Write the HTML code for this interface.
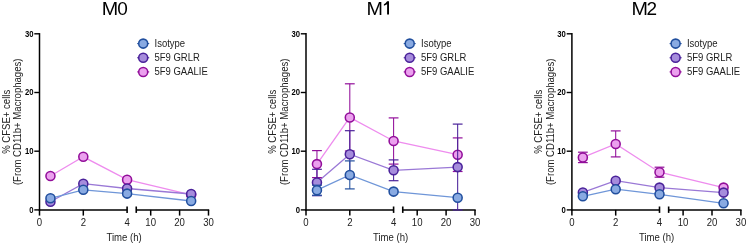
<!DOCTYPE html>
<html><head><meta charset="utf-8"><style>
html,body{margin:0;padding:0;background:#fff;}
svg{display:block;font-family:"Liberation Sans", sans-serif;will-change:transform;}
</style></head><body>
<svg width="748" height="245" viewBox="0 0 748 245">
<rect width="748" height="245" fill="#fff"/>
<text x="101.8" y="14.9" font-size="19" fill="#000" transform="translate(101.80,0) scale(1.04,1) translate(-101.80,0)">M</text>
<text x="117.2" y="14.9" font-size="19" fill="#000" transform="translate(117.20,0) scale(1.0,1) translate(-117.20,0)">0</text>
<line x1="39.50" y1="33.1" x2="39.50" y2="210.6" stroke="#000" stroke-width="1.5"/>
<line x1="34.30" y1="209.90" x2="39.50" y2="209.90" stroke="#000" stroke-width="1.4"/>
<text transform="translate(33.50,212.80) scale(1.0,1.12)" font-size="7.7" font-weight="bold" text-anchor="end" fill="#000">0</text>
<line x1="34.30" y1="151.20" x2="39.50" y2="151.20" stroke="#000" stroke-width="1.4"/>
<text transform="translate(33.50,154.10) scale(1.0,1.12)" font-size="7.7" font-weight="bold" text-anchor="end" fill="#000">10</text>
<line x1="34.30" y1="92.50" x2="39.50" y2="92.50" stroke="#000" stroke-width="1.4"/>
<text transform="translate(33.50,95.40) scale(1.0,1.12)" font-size="7.7" font-weight="bold" text-anchor="end" fill="#000">20</text>
<line x1="34.30" y1="33.80" x2="39.50" y2="33.80" stroke="#000" stroke-width="1.4"/>
<text transform="translate(33.50,36.70) scale(1.0,1.12)" font-size="7.7" font-weight="bold" text-anchor="end" fill="#000">30</text>
<line x1="38.80" y1="209.90" x2="127.10" y2="209.90" stroke="#000" stroke-width="1.55"/>
<line x1="136.25" y1="209.90" x2="209.20" y2="209.90" stroke="#000" stroke-width="1.55"/>
<line x1="127.10" y1="206.5" x2="127.10" y2="212.9" stroke="#000" stroke-width="1.6"/>
<line x1="136.25" y1="206.5" x2="136.25" y2="212.9" stroke="#000" stroke-width="1.6"/>
<line x1="39.50" y1="209.90" x2="39.50" y2="215.6" stroke="#000" stroke-width="1.5"/>
<line x1="83.30" y1="209.90" x2="83.30" y2="215.6" stroke="#000" stroke-width="1.5"/>
<line x1="150.70" y1="209.90" x2="150.70" y2="215.6" stroke="#000" stroke-width="1.5"/>
<line x1="179.60" y1="209.90" x2="179.60" y2="215.6" stroke="#000" stroke-width="1.5"/>
<line x1="208.50" y1="209.90" x2="208.50" y2="215.6" stroke="#000" stroke-width="1.5"/>
<text transform="translate(39.50,225.90) scale(1.0,1.08)" font-size="9.6" text-anchor="middle" fill="#222">0</text>
<text transform="translate(83.30,225.90) scale(1.0,1.08)" font-size="9.6" text-anchor="middle" fill="#222">2</text>
<text transform="translate(127.10,225.90) scale(1.0,1.08)" font-size="9.6" text-anchor="middle" fill="#222">4</text>
<text transform="translate(150.70,225.90) scale(1.0,1.08)" font-size="9.6" text-anchor="middle" fill="#222">10</text>
<text transform="translate(179.60,225.90) scale(1.0,1.08)" font-size="9.6" text-anchor="middle" fill="#222">20</text>
<text transform="translate(208.50,225.90) scale(1.0,1.08)" font-size="9.6" text-anchor="middle" fill="#222">30</text>
<text transform="translate(106.50,240.5) scale(0.93,1)" font-size="10.3" fill="#222">Time (h)</text>
<text transform="translate(9.50,121.8) rotate(-90) scale(0.92,1)" font-size="10.4" text-anchor="middle" fill="#222">% CFSE+ cells</text>
<text transform="translate(21.30,121.8) rotate(-90) scale(0.92,1)" font-size="10.4" text-anchor="middle" fill="#222">(From CD11b+ Macrophages)</text>
<polyline points="50.45,176.00 83.30,156.80 127.10,179.70 191.16,194.80" fill="none" stroke="#ee8cee" stroke-width="1.3"/>
<polyline points="50.45,201.70 83.30,183.70 127.10,188.50 191.16,194.00" fill="none" stroke="#9a78d6" stroke-width="1.3"/>
<polyline points="50.45,198.30 83.30,189.80 127.10,193.60 191.16,201.00" fill="none" stroke="#6f96d8" stroke-width="1.3"/>
<circle cx="50.45" cy="176.00" r="4.5" fill="#eba0ee" stroke="#920e9a" stroke-width="1.55"/>
<circle cx="83.30" cy="156.80" r="4.5" fill="#eba0ee" stroke="#920e9a" stroke-width="1.55"/>
<circle cx="127.10" cy="179.70" r="4.5" fill="#eba0ee" stroke="#920e9a" stroke-width="1.55"/>
<circle cx="191.16" cy="194.80" r="4.5" fill="#eba0ee" stroke="#920e9a" stroke-width="1.55"/>
<circle cx="50.45" cy="201.70" r="4.5" fill="#a68cdc" stroke="#4a229a" stroke-width="1.55"/>
<circle cx="83.30" cy="183.70" r="4.5" fill="#a68cdc" stroke="#4a229a" stroke-width="1.55"/>
<circle cx="127.10" cy="188.50" r="4.5" fill="#a68cdc" stroke="#4a229a" stroke-width="1.55"/>
<circle cx="191.16" cy="194.00" r="4.5" fill="#a68cdc" stroke="#4a229a" stroke-width="1.55"/>
<circle cx="50.45" cy="198.30" r="4.5" fill="#89aae2" stroke="#214f9e" stroke-width="1.55"/>
<circle cx="83.30" cy="189.80" r="4.5" fill="#89aae2" stroke="#214f9e" stroke-width="1.55"/>
<circle cx="127.10" cy="193.60" r="4.5" fill="#89aae2" stroke="#214f9e" stroke-width="1.55"/>
<circle cx="191.16" cy="201.00" r="4.5" fill="#89aae2" stroke="#214f9e" stroke-width="1.55"/>
<line x1="137.20" y1="43.60" x2="149.20" y2="43.60" stroke="#214f9e" stroke-width="1.1"/>
<circle cx="143.20" cy="43.60" r="4.5" fill="#89aae2" stroke="#214f9e" stroke-width="1.55"/>
<text transform="translate(154.50,46.80) scale(1.0,1.07)" font-size="9.5" fill="#222">Isotype</text>
<line x1="137.20" y1="57.75" x2="149.20" y2="57.75" stroke="#4a229a" stroke-width="1.1"/>
<circle cx="143.20" cy="57.75" r="4.5" fill="#a68cdc" stroke="#4a229a" stroke-width="1.55"/>
<text transform="translate(154.50,60.95) scale(1.0,1.07)" font-size="9.5" fill="#222">5F9 GRLR</text>
<line x1="137.20" y1="71.90" x2="149.20" y2="71.90" stroke="#920e9a" stroke-width="1.1"/>
<circle cx="143.20" cy="71.90" r="4.5" fill="#eba0ee" stroke="#920e9a" stroke-width="1.55"/>
<text transform="translate(154.50,75.10) scale(1.0,1.07)" font-size="9.5" fill="#222">5F9 GAALIE</text>
<text x="366.4" y="14.9" font-size="19" fill="#000" transform="translate(366.40,0) scale(1.04,1) translate(-366.40,0)">M</text>
<path d="M387.1 1.3 L389.0 1.3 L389.0 14.6 L387.1 14.6 L387.1 4.2 Q385.8 5.1 383.9 5.8 L383.9 4.2 Q386.0 3.1 387.1 1.3 Z" fill="#000"/>
<line x1="306.00" y1="33.1" x2="306.00" y2="210.6" stroke="#000" stroke-width="1.5"/>
<line x1="300.80" y1="209.90" x2="306.00" y2="209.90" stroke="#000" stroke-width="1.4"/>
<text transform="translate(300.00,212.80) scale(1.0,1.12)" font-size="7.7" font-weight="bold" text-anchor="end" fill="#000">0</text>
<line x1="300.80" y1="151.20" x2="306.00" y2="151.20" stroke="#000" stroke-width="1.4"/>
<text transform="translate(300.00,154.10) scale(1.0,1.12)" font-size="7.7" font-weight="bold" text-anchor="end" fill="#000">10</text>
<line x1="300.80" y1="92.50" x2="306.00" y2="92.50" stroke="#000" stroke-width="1.4"/>
<text transform="translate(300.00,95.40) scale(1.0,1.12)" font-size="7.7" font-weight="bold" text-anchor="end" fill="#000">20</text>
<line x1="300.80" y1="33.80" x2="306.00" y2="33.80" stroke="#000" stroke-width="1.4"/>
<text transform="translate(300.00,36.70) scale(1.0,1.12)" font-size="7.7" font-weight="bold" text-anchor="end" fill="#000">30</text>
<line x1="305.30" y1="209.90" x2="393.60" y2="209.90" stroke="#000" stroke-width="1.55"/>
<line x1="402.75" y1="209.90" x2="475.70" y2="209.90" stroke="#000" stroke-width="1.55"/>
<line x1="393.60" y1="206.5" x2="393.60" y2="212.9" stroke="#000" stroke-width="1.6"/>
<line x1="402.75" y1="206.5" x2="402.75" y2="212.9" stroke="#000" stroke-width="1.6"/>
<line x1="306.00" y1="209.90" x2="306.00" y2="215.6" stroke="#000" stroke-width="1.5"/>
<line x1="349.80" y1="209.90" x2="349.80" y2="215.6" stroke="#000" stroke-width="1.5"/>
<line x1="417.20" y1="209.90" x2="417.20" y2="215.6" stroke="#000" stroke-width="1.5"/>
<line x1="446.10" y1="209.90" x2="446.10" y2="215.6" stroke="#000" stroke-width="1.5"/>
<line x1="475.00" y1="209.90" x2="475.00" y2="215.6" stroke="#000" stroke-width="1.5"/>
<text transform="translate(306.00,225.90) scale(1.0,1.08)" font-size="9.6" text-anchor="middle" fill="#222">0</text>
<text transform="translate(349.80,225.90) scale(1.0,1.08)" font-size="9.6" text-anchor="middle" fill="#222">2</text>
<text transform="translate(393.60,225.90) scale(1.0,1.08)" font-size="9.6" text-anchor="middle" fill="#222">4</text>
<text transform="translate(417.20,225.90) scale(1.0,1.08)" font-size="9.6" text-anchor="middle" fill="#222">10</text>
<text transform="translate(446.10,225.90) scale(1.0,1.08)" font-size="9.6" text-anchor="middle" fill="#222">20</text>
<text transform="translate(475.00,225.90) scale(1.0,1.08)" font-size="9.6" text-anchor="middle" fill="#222">30</text>
<text transform="translate(373.00,240.5) scale(0.93,1)" font-size="10.3" fill="#222">Time (h)</text>
<text transform="translate(276.00,121.8) rotate(-90) scale(0.92,1)" font-size="10.4" text-anchor="middle" fill="#222">% CFSE+ cells</text>
<text transform="translate(287.80,121.8) rotate(-90) scale(0.92,1)" font-size="10.4" text-anchor="middle" fill="#222">(From CD11b+ Macrophages)</text>
<polyline points="316.95,164.10 349.80,117.40 393.60,141.00 457.66,154.70" fill="none" stroke="#ee8cee" stroke-width="1.3"/>
<polyline points="316.95,182.50 349.80,154.20 393.60,170.30 457.66,167.10" fill="none" stroke="#9a78d6" stroke-width="1.3"/>
<polyline points="316.95,190.20 349.80,174.90 393.60,191.60 457.66,197.70" fill="none" stroke="#6f96d8" stroke-width="1.3"/>
<line x1="316.95" y1="150.60" x2="316.95" y2="177.60" stroke="#920e9a" stroke-width="1.05"/>
<line x1="312.05" y1="150.60" x2="321.85" y2="150.60" stroke="#920e9a" stroke-width="1.2"/>
<line x1="312.05" y1="177.60" x2="321.85" y2="177.60" stroke="#920e9a" stroke-width="1.2"/>
<circle cx="316.95" cy="164.10" r="4.5" fill="#eba0ee" stroke="#920e9a" stroke-width="1.55"/>
<line x1="349.80" y1="83.80" x2="349.80" y2="151.00" stroke="#920e9a" stroke-width="1.05"/>
<line x1="344.90" y1="83.80" x2="354.70" y2="83.80" stroke="#920e9a" stroke-width="1.2"/>
<line x1="344.90" y1="151.00" x2="354.70" y2="151.00" stroke="#920e9a" stroke-width="1.2"/>
<circle cx="349.80" cy="117.40" r="4.5" fill="#eba0ee" stroke="#920e9a" stroke-width="1.55"/>
<line x1="393.60" y1="117.90" x2="393.60" y2="164.10" stroke="#920e9a" stroke-width="1.05"/>
<line x1="388.70" y1="117.90" x2="398.50" y2="117.90" stroke="#920e9a" stroke-width="1.2"/>
<line x1="388.70" y1="164.10" x2="398.50" y2="164.10" stroke="#920e9a" stroke-width="1.2"/>
<circle cx="393.60" cy="141.00" r="4.5" fill="#eba0ee" stroke="#920e9a" stroke-width="1.55"/>
<line x1="457.66" y1="137.90" x2="457.66" y2="171.50" stroke="#920e9a" stroke-width="1.05"/>
<line x1="452.76" y1="137.90" x2="462.56" y2="137.90" stroke="#920e9a" stroke-width="1.2"/>
<line x1="452.76" y1="171.50" x2="462.56" y2="171.50" stroke="#920e9a" stroke-width="1.2"/>
<circle cx="457.66" cy="154.70" r="4.5" fill="#eba0ee" stroke="#920e9a" stroke-width="1.55"/>
<line x1="316.95" y1="169.30" x2="316.95" y2="195.70" stroke="#4a229a" stroke-width="1.05"/>
<line x1="312.05" y1="169.30" x2="321.85" y2="169.30" stroke="#4a229a" stroke-width="1.2"/>
<line x1="312.05" y1="195.70" x2="321.85" y2="195.70" stroke="#4a229a" stroke-width="1.2"/>
<circle cx="316.95" cy="182.50" r="4.5" fill="#a68cdc" stroke="#4a229a" stroke-width="1.55"/>
<line x1="349.80" y1="130.70" x2="349.80" y2="177.70" stroke="#4a229a" stroke-width="1.05"/>
<line x1="344.90" y1="130.70" x2="354.70" y2="130.70" stroke="#4a229a" stroke-width="1.2"/>
<line x1="344.90" y1="177.70" x2="354.70" y2="177.70" stroke="#4a229a" stroke-width="1.2"/>
<circle cx="349.80" cy="154.20" r="4.5" fill="#a68cdc" stroke="#4a229a" stroke-width="1.55"/>
<line x1="393.60" y1="159.90" x2="393.60" y2="180.70" stroke="#4a229a" stroke-width="1.05"/>
<line x1="388.70" y1="159.90" x2="398.50" y2="159.90" stroke="#4a229a" stroke-width="1.2"/>
<line x1="388.70" y1="180.70" x2="398.50" y2="180.70" stroke="#4a229a" stroke-width="1.2"/>
<circle cx="393.60" cy="170.30" r="4.5" fill="#a68cdc" stroke="#4a229a" stroke-width="1.55"/>
<line x1="457.66" y1="124.10" x2="457.66" y2="210.00" stroke="#4a229a" stroke-width="1.05"/>
<line x1="452.76" y1="124.10" x2="462.56" y2="124.10" stroke="#4a229a" stroke-width="1.2"/>
<line x1="452.76" y1="210.00" x2="462.56" y2="210.00" stroke="#4a229a" stroke-width="1.2"/>
<circle cx="457.66" cy="167.10" r="4.5" fill="#a68cdc" stroke="#4a229a" stroke-width="1.55"/>
<line x1="316.95" y1="185.20" x2="316.95" y2="195.20" stroke="#214f9e" stroke-width="1.05"/>
<line x1="312.05" y1="185.20" x2="321.85" y2="185.20" stroke="#214f9e" stroke-width="1.2"/>
<line x1="312.05" y1="195.20" x2="321.85" y2="195.20" stroke="#214f9e" stroke-width="1.2"/>
<circle cx="316.95" cy="190.20" r="4.5" fill="#89aae2" stroke="#214f9e" stroke-width="1.55"/>
<line x1="349.80" y1="160.90" x2="349.80" y2="188.90" stroke="#214f9e" stroke-width="1.05"/>
<line x1="344.90" y1="160.90" x2="354.70" y2="160.90" stroke="#214f9e" stroke-width="1.2"/>
<line x1="344.90" y1="188.90" x2="354.70" y2="188.90" stroke="#214f9e" stroke-width="1.2"/>
<circle cx="349.80" cy="174.90" r="4.5" fill="#89aae2" stroke="#214f9e" stroke-width="1.55"/>
<circle cx="393.60" cy="191.60" r="4.5" fill="#89aae2" stroke="#214f9e" stroke-width="1.55"/>
<circle cx="457.66" cy="197.70" r="4.5" fill="#89aae2" stroke="#214f9e" stroke-width="1.55"/>
<line x1="403.70" y1="43.60" x2="415.70" y2="43.60" stroke="#214f9e" stroke-width="1.1"/>
<circle cx="409.70" cy="43.60" r="4.5" fill="#89aae2" stroke="#214f9e" stroke-width="1.55"/>
<text transform="translate(421.00,46.80) scale(1.0,1.07)" font-size="9.5" fill="#222">Isotype</text>
<line x1="403.70" y1="57.75" x2="415.70" y2="57.75" stroke="#4a229a" stroke-width="1.1"/>
<circle cx="409.70" cy="57.75" r="4.5" fill="#a68cdc" stroke="#4a229a" stroke-width="1.55"/>
<text transform="translate(421.00,60.95) scale(1.0,1.07)" font-size="9.5" fill="#222">5F9 GRLR</text>
<line x1="403.70" y1="71.90" x2="415.70" y2="71.90" stroke="#920e9a" stroke-width="1.1"/>
<circle cx="409.70" cy="71.90" r="4.5" fill="#eba0ee" stroke="#920e9a" stroke-width="1.55"/>
<text transform="translate(421.00,75.10) scale(1.0,1.07)" font-size="9.5" fill="#222">5F9 GAALIE</text>
<text x="631.4" y="14.9" font-size="19" fill="#000" transform="translate(631.40,0) scale(1.04,1) translate(-631.40,0)">M</text>
<text x="646.6" y="14.9" font-size="19" fill="#000" transform="translate(646.60,0) scale(1.0,1) translate(-646.60,0)">2</text>
<line x1="571.90" y1="33.1" x2="571.90" y2="210.6" stroke="#000" stroke-width="1.5"/>
<line x1="566.70" y1="209.90" x2="571.90" y2="209.90" stroke="#000" stroke-width="1.4"/>
<text transform="translate(565.90,212.80) scale(1.0,1.12)" font-size="7.7" font-weight="bold" text-anchor="end" fill="#000">0</text>
<line x1="566.70" y1="151.20" x2="571.90" y2="151.20" stroke="#000" stroke-width="1.4"/>
<text transform="translate(565.90,154.10) scale(1.0,1.12)" font-size="7.7" font-weight="bold" text-anchor="end" fill="#000">10</text>
<line x1="566.70" y1="92.50" x2="571.90" y2="92.50" stroke="#000" stroke-width="1.4"/>
<text transform="translate(565.90,95.40) scale(1.0,1.12)" font-size="7.7" font-weight="bold" text-anchor="end" fill="#000">20</text>
<line x1="566.70" y1="33.80" x2="571.90" y2="33.80" stroke="#000" stroke-width="1.4"/>
<text transform="translate(565.90,36.70) scale(1.0,1.12)" font-size="7.7" font-weight="bold" text-anchor="end" fill="#000">30</text>
<line x1="571.20" y1="209.90" x2="659.50" y2="209.90" stroke="#000" stroke-width="1.55"/>
<line x1="668.65" y1="209.90" x2="741.60" y2="209.90" stroke="#000" stroke-width="1.55"/>
<line x1="659.50" y1="206.5" x2="659.50" y2="212.9" stroke="#000" stroke-width="1.6"/>
<line x1="668.65" y1="206.5" x2="668.65" y2="212.9" stroke="#000" stroke-width="1.6"/>
<line x1="571.90" y1="209.90" x2="571.90" y2="215.6" stroke="#000" stroke-width="1.5"/>
<line x1="615.70" y1="209.90" x2="615.70" y2="215.6" stroke="#000" stroke-width="1.5"/>
<line x1="683.10" y1="209.90" x2="683.10" y2="215.6" stroke="#000" stroke-width="1.5"/>
<line x1="712.00" y1="209.90" x2="712.00" y2="215.6" stroke="#000" stroke-width="1.5"/>
<line x1="740.90" y1="209.90" x2="740.90" y2="215.6" stroke="#000" stroke-width="1.5"/>
<text transform="translate(571.90,225.90) scale(1.0,1.08)" font-size="9.6" text-anchor="middle" fill="#222">0</text>
<text transform="translate(615.70,225.90) scale(1.0,1.08)" font-size="9.6" text-anchor="middle" fill="#222">2</text>
<text transform="translate(659.50,225.90) scale(1.0,1.08)" font-size="9.6" text-anchor="middle" fill="#222">4</text>
<text transform="translate(683.10,225.90) scale(1.0,1.08)" font-size="9.6" text-anchor="middle" fill="#222">10</text>
<text transform="translate(712.00,225.90) scale(1.0,1.08)" font-size="9.6" text-anchor="middle" fill="#222">20</text>
<text transform="translate(740.90,225.90) scale(1.0,1.08)" font-size="9.6" text-anchor="middle" fill="#222">30</text>
<text transform="translate(638.90,240.5) scale(0.93,1)" font-size="10.3" fill="#222">Time (h)</text>
<text transform="translate(541.90,121.8) rotate(-90) scale(0.92,1)" font-size="10.4" text-anchor="middle" fill="#222">% CFSE+ cells</text>
<text transform="translate(553.70,121.8) rotate(-90) scale(0.92,1)" font-size="10.4" text-anchor="middle" fill="#222">(From CD11b+ Macrophages)</text>
<polyline points="582.85,157.40 615.70,143.90 659.50,172.20 723.56,187.60" fill="none" stroke="#ee8cee" stroke-width="1.3"/>
<polyline points="582.85,192.40 615.70,180.70 659.50,187.60 723.56,192.60" fill="none" stroke="#9a78d6" stroke-width="1.3"/>
<polyline points="582.85,196.30 615.70,189.20 659.50,194.30 723.56,203.30" fill="none" stroke="#6f96d8" stroke-width="1.3"/>
<line x1="582.85" y1="152.20" x2="582.85" y2="162.60" stroke="#920e9a" stroke-width="1.05"/>
<line x1="577.95" y1="152.20" x2="587.75" y2="152.20" stroke="#920e9a" stroke-width="1.2"/>
<line x1="577.95" y1="162.60" x2="587.75" y2="162.60" stroke="#920e9a" stroke-width="1.2"/>
<circle cx="582.85" cy="157.40" r="4.5" fill="#eba0ee" stroke="#920e9a" stroke-width="1.55"/>
<line x1="615.70" y1="130.90" x2="615.70" y2="156.90" stroke="#920e9a" stroke-width="1.05"/>
<line x1="610.80" y1="130.90" x2="620.60" y2="130.90" stroke="#920e9a" stroke-width="1.2"/>
<line x1="610.80" y1="156.90" x2="620.60" y2="156.90" stroke="#920e9a" stroke-width="1.2"/>
<circle cx="615.70" cy="143.90" r="4.5" fill="#eba0ee" stroke="#920e9a" stroke-width="1.55"/>
<line x1="659.50" y1="167.20" x2="659.50" y2="177.20" stroke="#920e9a" stroke-width="1.05"/>
<line x1="654.60" y1="167.20" x2="664.40" y2="167.20" stroke="#920e9a" stroke-width="1.2"/>
<line x1="654.60" y1="177.20" x2="664.40" y2="177.20" stroke="#920e9a" stroke-width="1.2"/>
<circle cx="659.50" cy="172.20" r="4.5" fill="#eba0ee" stroke="#920e9a" stroke-width="1.55"/>
<circle cx="723.56" cy="187.60" r="4.5" fill="#eba0ee" stroke="#920e9a" stroke-width="1.55"/>
<circle cx="582.85" cy="192.40" r="4.5" fill="#a68cdc" stroke="#4a229a" stroke-width="1.55"/>
<circle cx="615.70" cy="180.70" r="4.5" fill="#a68cdc" stroke="#4a229a" stroke-width="1.55"/>
<circle cx="659.50" cy="187.60" r="4.5" fill="#a68cdc" stroke="#4a229a" stroke-width="1.55"/>
<circle cx="723.56" cy="192.60" r="4.5" fill="#a68cdc" stroke="#4a229a" stroke-width="1.55"/>
<circle cx="582.85" cy="196.30" r="4.5" fill="#89aae2" stroke="#214f9e" stroke-width="1.55"/>
<circle cx="615.70" cy="189.20" r="4.5" fill="#89aae2" stroke="#214f9e" stroke-width="1.55"/>
<circle cx="659.50" cy="194.30" r="4.5" fill="#89aae2" stroke="#214f9e" stroke-width="1.55"/>
<circle cx="723.56" cy="203.30" r="4.5" fill="#89aae2" stroke="#214f9e" stroke-width="1.55"/>
<line x1="669.60" y1="43.60" x2="681.60" y2="43.60" stroke="#214f9e" stroke-width="1.1"/>
<circle cx="675.60" cy="43.60" r="4.5" fill="#89aae2" stroke="#214f9e" stroke-width="1.55"/>
<text transform="translate(686.90,46.80) scale(1.0,1.07)" font-size="9.5" fill="#222">Isotype</text>
<line x1="669.60" y1="57.75" x2="681.60" y2="57.75" stroke="#4a229a" stroke-width="1.1"/>
<circle cx="675.60" cy="57.75" r="4.5" fill="#a68cdc" stroke="#4a229a" stroke-width="1.55"/>
<text transform="translate(686.90,60.95) scale(1.0,1.07)" font-size="9.5" fill="#222">5F9 GRLR</text>
<line x1="669.60" y1="71.90" x2="681.60" y2="71.90" stroke="#920e9a" stroke-width="1.1"/>
<circle cx="675.60" cy="71.90" r="4.5" fill="#eba0ee" stroke="#920e9a" stroke-width="1.55"/>
<text transform="translate(686.90,75.10) scale(1.0,1.07)" font-size="9.5" fill="#222">5F9 GAALIE</text>
</svg>
</body></html>
